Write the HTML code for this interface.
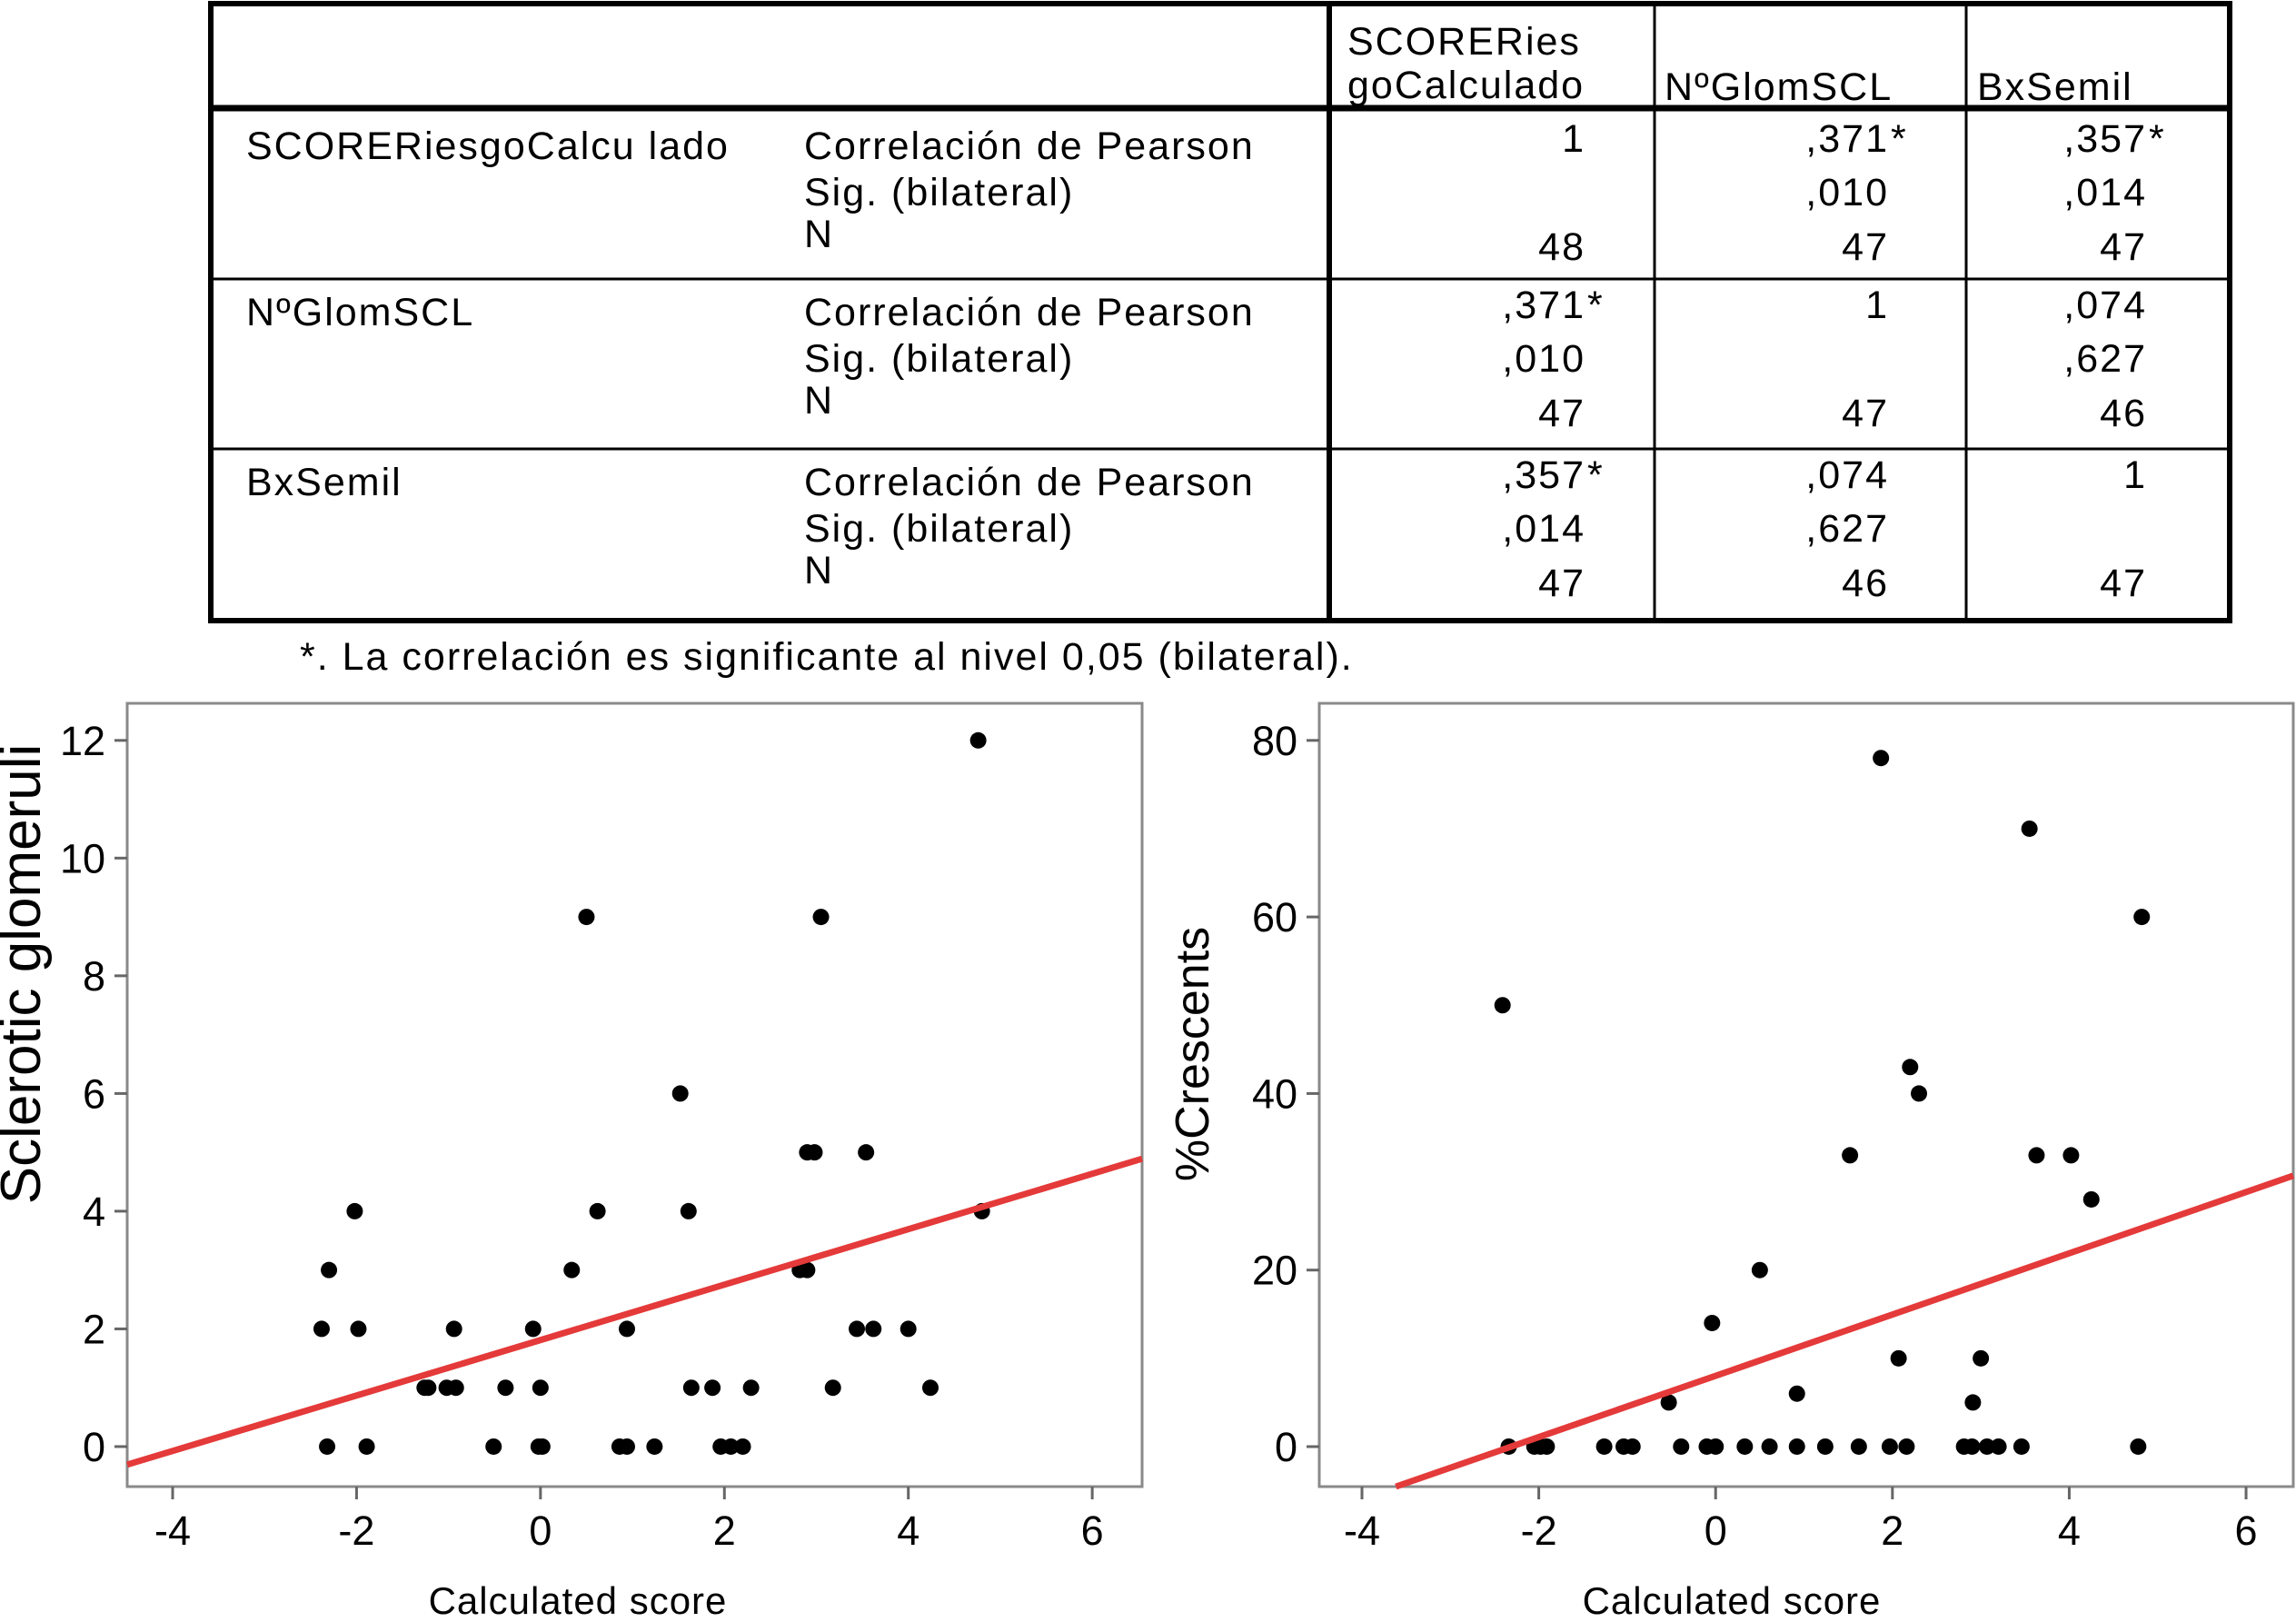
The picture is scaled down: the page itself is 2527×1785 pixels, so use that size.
<!DOCTYPE html>
<html><head><meta charset="utf-8"><style>
html,body{margin:0;padding:0;background:#fff}
svg{display:block;font-family:"Liberation Sans",Arial,sans-serif}
</style></head><body>
<svg id="root" width="2527" height="1785" viewBox="0 0 2527 1785" xmlns="http://www.w3.org/2000/svg">
<g id="table" font-size="43" letter-spacing="2" fill="#000">
  <rect x="232" y="4" width="2222" height="679" fill="none" stroke="#000" stroke-width="6"/>
  <line x1="232" y1="119" x2="2454" y2="119" stroke="#000" stroke-width="7"/>
  <line x1="1463" y1="4" x2="1463" y2="683" stroke="#000" stroke-width="6"/>
  <line x1="1821" y1="4" x2="1821" y2="683" stroke="#000" stroke-width="3"/>
  <line x1="2164" y1="4" x2="2164" y2="683" stroke="#000" stroke-width="3"/>
  <line x1="232" y1="307" x2="2454" y2="307" stroke="#000" stroke-width="3"/>
  <line x1="232" y1="494" x2="2454" y2="494" stroke="#000" stroke-width="3"/>
  <text x="1483" y="60">SCORERies</text>
  <text x="1483" y="108">goCalculado</text>
  <text x="1832" y="110">NºGlomSCL</text>
  <text x="2176" y="110">BxSemil</text>
</g>
<text x="330" y="737" font-size="43" letter-spacing="2">*. La correlación es significante al nivel 0,05 (bilateral).</text>
<g id="plot1"></g>
<g id="plot2"></g>
</svg>
<script>
const NS="http://www.w3.org/2000/svg";
const rowLabels=["SCORERiesgoCalcu lado","NºGlomSCL","BxSemil"];
const statLabels=["Correlación de Pearson","Sig. (bilateral)","N"];
const cellValues=[
 [["1",""],["",""],["48",""]],[[",371","*"],[",010",""],["47",""]],[[",357","*"],[",014",""],["47",""]],
 [[",371","*"],[",010",""],["47",""]],[["1",""],["",""],["47",""]],[[",074",""],[",627",""],["46",""]],
 [[",357","*"],[",014",""],["47",""]],[[",074",""],[",627",""],["46",""]],[["1",""],["",""],["47",""]]
];
// scatter data
const x1=[4.76,0.5,3.05,1.52,2.9,2.98,3.54,-2.02,0.62,1.61,4.8,-2.3,0.34,2.82,2.9,-2.38,-1.98,-0.94,-0.08,0.94,3.44,3.62,4.0,-1.26,-1.22,-1.02,-0.92,-0.38,0.0,1.64,1.87,2.29,3.18,4.24,-2.32,-1.89,-0.51,-0.02,0.02,0.86,0.94,1.24,1.96,2.07,2.2];
const y1=[12,9,9,6,5,5,5,4,4,4,4,3,3,3,3,2,2,2,2,2,2,2,2,1,1,1,1,1,1,1,1,1,1,1,0,0,0,0,0,0,0,0,0,0,0];
const x2=[1.87,3.55,4.82,-2.41,2.2,2.3,1.52,3.63,4.02,4.25,0.5,-0.04,2.07,3.0,0.92,-0.53,2.91,-2.34,-2.05,-1.98,-1.91,-1.26,-1.04,-0.94,-0.39,-0.1,0,0.33,0.61,0.92,1.24,1.62,1.97,2.16,2.81,2.9,3.07,3.2,3.46,4.78];
const y2=[78,70,60,50,43,40,33,33,33,28,20,14,10,10,6,5,5,0,0,0,0,0,0,0,0,0,0,0,0,0,0,0,0,0,0,0,0,0,0,0];
const fit1=[0.471,1.81];
const fit2=[3.47,8.02];
const xTicks=[-4,-2,0,2,4,6];
const yTicks1=[0,2,4,6,8,10,12];
const yTicks2=[0,20,40,60,80];

function mk(tag,attrs,parent,txt){const e=document.createElementNS(NS,tag);for(const k in attrs)e.setAttribute(k,attrs[k]);if(txt!==undefined)e.textContent=txt;parent.appendChild(e);return e;}

const tb=document.getElementById('table');
const groupTop=[175,358,545];
const lineStep=[0,51,101];
const colRight=[1745,2079,2363];
for(let g=0;g<3;g++){
  const t=mk('text',{x:271,y:groupTop[g]},tb,rowLabels[g]);
  
  
  for(let s=0;s<3;s++){
    const y=groupTop[g]+lineStep[s]-(s==2?4:0);
    const st=mk('text',{x:885,y:y},tb,statLabels[s]);
    
    
    for(let c=0;c<3;c++){
      const v=cellValues[g*3+c][s];
      if(!v[0])continue;
      const yy=groupTop[g]+lineStep[s]+(s==2?10:(s==0?-8:0));
      const ct=mk('text',{x:colRight[c],y:yy,'text-anchor':'end'},tb,v[0]);
      
      
      if(v[1]){const a=mk('text',{x:colRight[c]+2,y:yy},tb,v[1]);
        
        }
    }
  }
}

function plot(gid,L,R,T,B,xmin,xmax,ymin,ymax,xs,ys,fit,yt,ytitle,ytx,yty,ytsize,xtx){
  const g=document.getElementById(gid);
  const sx=v=>L+(v-xmin)/(xmax-xmin)*(R-L);
  const sy=v=>B-(v-ymin)/(ymax-ymin)*(B-T);
  const fr=mk('rect',{x:L,y:T,width:R-L,height:B-T,fill:'none',stroke:'#8a8a8a','stroke-width':3},g);
  
  xTicks.forEach(v=>{
    const l=mk('line',{x1:sx(v),x2:sx(v),y1:B,y2:B+14,stroke:'#666','stroke-width':3},g);
    
    const t=mk('text',{x:sx(v),y:B+64,'font-size':45,'text-anchor':'middle'},g,String(v));
    
  });
  yt.forEach(v=>{
    const l=mk('line',{x1:L-14,x2:L,y1:sy(v),y2:sy(v),stroke:'#666','stroke-width':3},g);
    
    const t=mk('text',{x:L-24,y:sy(v)+16,'font-size':45,'text-anchor':'end'},g,String(v));
    
  });
  const xl=mk('text',{x:xtx,y:1776,'font-size':42,'letter-spacing':1,'text-anchor':'middle'},g,'Calculated score');
  
  const yl=mk('text',{x:ytx,y:yty,'font-size':ytsize,'text-anchor':'middle',transform:`rotate(-90 ${ytx} ${yty})`},g,ytitle);
  
  for(let i=0;i<xs.length;i++){
    const c=mk('circle',{cx:sx(xs[i]),cy:sy(ys[i]),r:9,fill:'#000'},g);
    
  }
  let xa=xmin,xb=xmax,ya=fit[0]*xa+fit[1],yb=fit[0]*xb+fit[1];
  if(ya<ymin){xa=(ymin-fit[1])/fit[0];ya=ymin;}
  if(yb>ymax){xb=(ymax-fit[1])/fit[0];yb=ymax;}
  const fl=mk('line',{x1:sx(xa),y1:sy(ya),x2:sx(xb),y2:sy(yb),stroke:'#e43a3a','stroke-width':7},g);
  
}
plot('plot1',140,1257,774,1636,-4.494,6.542,-0.68,12.63,x1,y1,fit1,yTicks1,'Sclerotic glomeruli',44,1072,62,636);
plot('plot2',1452,2524,774,1636,-4.483,6.534,-4.53,84.2,x2,y2,fit2,yTicks2,'%Crescents',1330,1160,52,1906);
</script>
</body></html>
